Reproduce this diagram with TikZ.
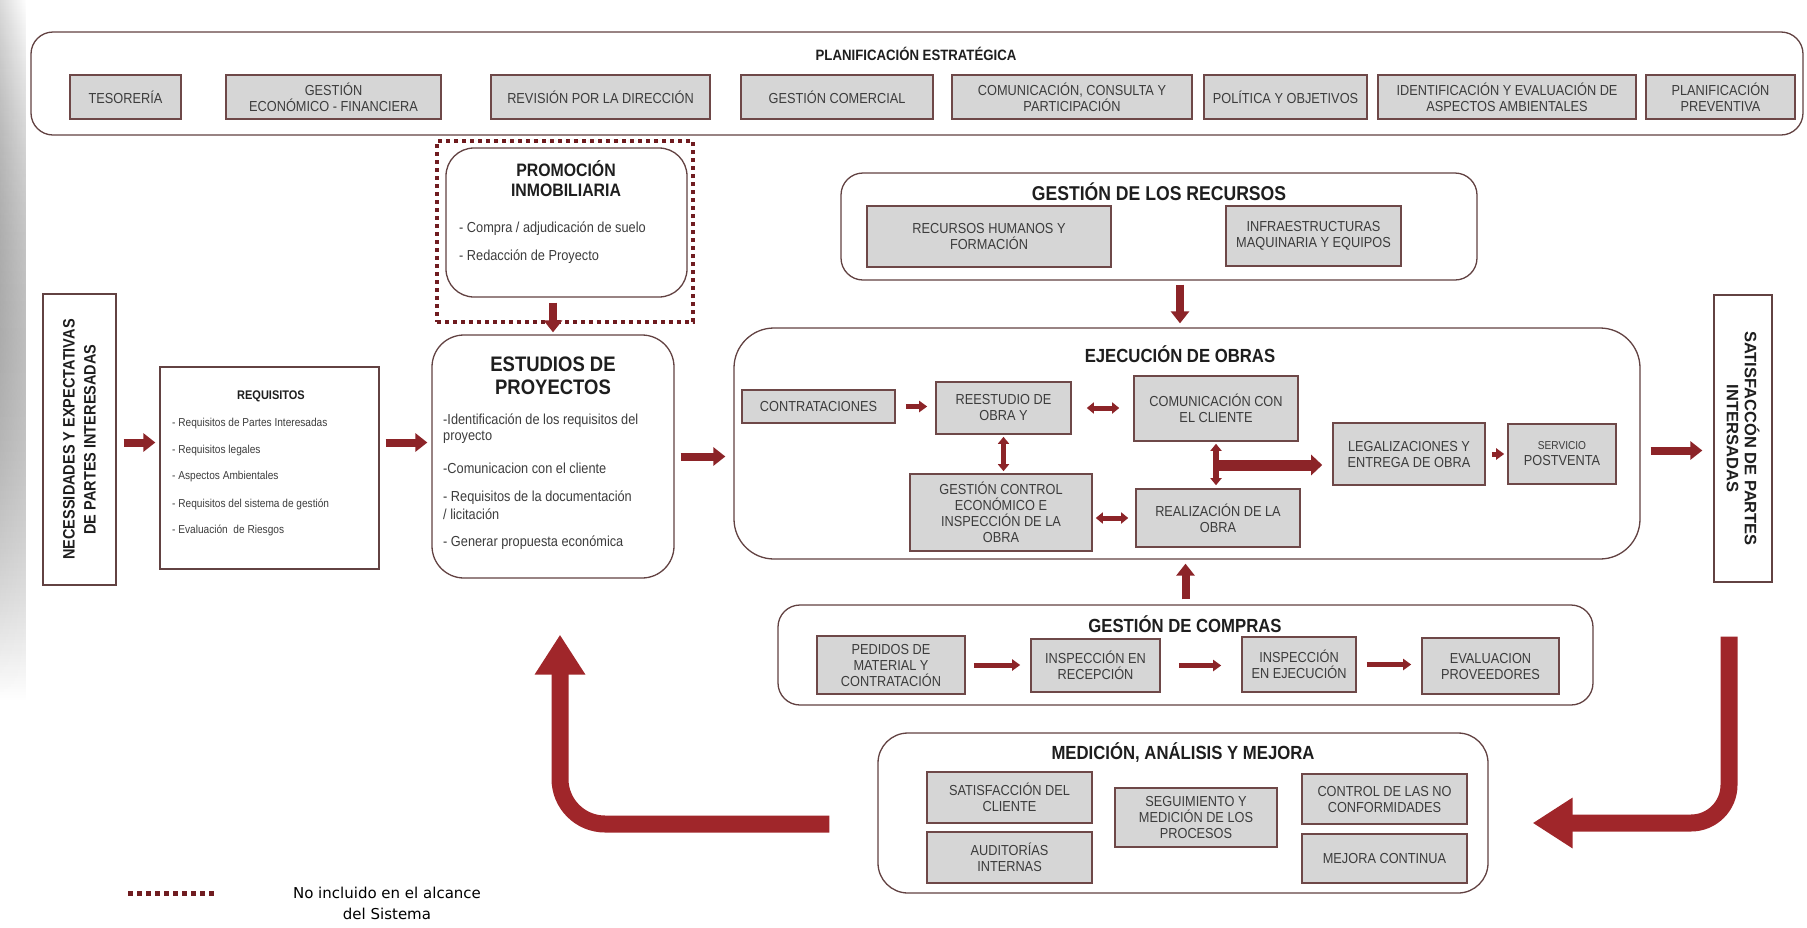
\documentclass[tikz,border=0pt]{standalone}
\usepackage{fontspec}
\setmainfont{Liberation Sans}
\newfontfamily\narrowfont[FakeStretch=0.88]{Liberation Sans}
\newfontfamily\legendfont{DejaVu Sans}
\usetikzlibrary{arrows.meta,positioning,calc,fadings}
\definecolor{maroon}{RGB}{112,28,32}
\definecolor{arrowred}{RGB}{140,36,40}
\definecolor{bigred}{RGB}{160,38,42}
\definecolor{boxgray}{RGB}{214,214,214}
\definecolor{edge}{RGB}{98,66,66}
\definecolor{itemedge}{RGB}{110,72,72}
\definecolor{txt}{RGB}{60,60,60}
\definecolor{ttlc}{RGB}{30,30,30}
\tikzset{
  grp/.style = {draw=edge,line width=1.3pt,fill=white,rounded corners=22pt,inner sep=0pt},
  plainbox/.style = {draw=edge,line width=1.3pt,fill=white,inner sep=0pt},
  item/.style = {draw=itemedge,line width=1.6pt,fill=boxgray,inner sep=0pt,align=center,text=txt,
    font=\narrowfont\fontsize{14.5}{16}\selectfont},
  ttl/.style = {align=center,text=ttlc,inner sep=0pt,font=\narrowfont\bfseries\fontsize{19}{22}\selectfont},
  bul/.style = {anchor=west,inner sep=0pt,text=txt},
  dashbox/.style = {draw=maroon,line width=4pt,dash pattern=on 4pt off 4pt},
  arr/.style = {draw=arrowred,line width=8pt,-{Triangle[width=18pt,length=12pt]}},
  sarr/.style = {draw=arrowred,line width=5pt,-{Triangle[width=11pt,length=8pt]}},
  darr/.style = {draw=arrowred,line width=5pt,{Triangle[width=11pt,length=7pt]}-{Triangle[width=11pt,length=7pt]}},
  bigarr/.style = {draw=bigred,line width=17pt,-{Triangle[width=48pt,length=40pt]}}
}
\begin{document}
\begin{tikzpicture}[x=1pt,y=-1pt]
\useasboundingbox (0,0) rectangle (1807,927);
\fill[left color=black!14,right color=white,path fading=south] (0,0) rectangle (26,700);

\node[grp,minimum width=1772pt,minimum height=103pt] (plan) at (917,83.5) {};
\node[ttl,font=\narrowfont\bfseries\fontsize{15}{18}\selectfont] (plant) at (916,54) {PLANIFICACIÓN ESTRATÉGICA};
\foreach \n/\cx/\w/\lbl in {
    tes/125.5/111/{TESORERÍA},
    gef/333.5/215/{GESTIÓN\\ECONÓMICO - FINANCIERA},
    rev/600.5/219/{REVISIÓN POR LA DIRECCIÓN},
    com/837/192/{GESTIÓN COMERCIAL},
    ccp/1072/240/{COMUNICACIÓN, CONSULTA Y\\PARTICIPACIÓN},
    pol/1285.5/163/{POLÍTICA Y OBJETIVOS},
    ide/1507/258/{IDENTIFICACIÓN Y EVALUACIÓN DE\\ASPECTOS AMBIENTALES},
    pla/1720.5/149/{PLANIFICACIÓN\\PREVENTIVA}}
  \node[item,minimum width=\w pt,minimum height=44pt] (\n) at (\cx,97) {\lbl};

\node[dashbox,minimum width=256pt,minimum height=181pt,inner sep=0pt] (promoout) at (565,231.5) {};
\node[plainbox,rounded corners=28pt,minimum width=241pt,minimum height=149pt] (promo) at (566.5,222.5) {};
\node[ttl,font=\narrowfont\bfseries\fontsize{18}{20}\selectfont] (promot) at (566,179) {PROMOCIÓN\\INMOBILIARIA};
\foreach \lbl/\y in {{- Compra / adjudicación de suelo}/229,{- Redacción de Proyecto}/257}
  \node[bul,font=\narrowfont\fontsize{14.5}{16}\selectfont] at (459,\y) {\lbl};

\node[plainbox,rotate=90,minimum width=291pt,minimum height=73pt,align=center,text=ttlc,
  font=\narrowfont\bfseries\fontsize{16.5}{21}\selectfont] (nec) at (79.5,439.5)
  {NECESSIDADES Y EXPECTATIVAS\\DE PARTES INTERESADAS};

\node[plainbox,minimum width=219pt,minimum height=202pt] (req) at (269.5,468) {};
\node[ttl,font=\narrowfont\bfseries\fontsize{12.5}{14}\selectfont] (reqt) at (271,396) {REQUISITOS};
\foreach \lbl/\y in {{- Requisitos de Partes Interesadas}/424,{- Requisitos legales}/451,
    {- Aspectos Ambientales}/477,{- Requisitos del sistema de gestión}/504,{- Evaluación \ de Riesgos}/530}
  \node[bul,font=\narrowfont\fontsize{11.5}{13}\selectfont] at (172,\y) {\lbl};

\node[plainbox,rounded corners=32pt,minimum width=242pt,minimum height=243pt] (est) at (553,456.5) {};
\node[ttl,font=\narrowfont\bfseries\fontsize{21}{23}\selectfont] (estt) at (553,376) {ESTUDIOS DE\\PROYECTOS};
\foreach \lbl/\y in {{-Identificación de los requisitos del}/421,{proyecto}/437,{-Comunicacion con el cliente}/468,
    {- Requisitos de la documentación}/498,{/ licitación}/514,{- Generar propuesta económica}/543}
  \node[bul,font=\narrowfont\fontsize{14.5}{16}\selectfont] at (443,\y) {\lbl};

\node[grp,minimum width=636pt,minimum height=107pt] (rec) at (1159,226.5) {};
\node[ttl,font=\narrowfont\bfseries\fontsize{20}{22}\selectfont] (rect) at (1159,192) {GESTIÓN DE LOS RECURSOS};
\node[item,minimum width=244pt,minimum height=61pt] (rrhh) at (989,236.5) {RECURSOS HUMANOS Y\\FORMACIÓN};
\node[item,minimum width=175pt,minimum height=60pt] (infra) at (1313.5,236) {INFRAESTRUCTURAS\\MAQUINARIA Y EQUIPOS};

\node[grp,rounded corners=40pt,minimum width=906pt,minimum height=231pt] (ejec) at (1187,443.5) {};
\node[ttl] (eject) at (1180,354) {EJECUCIÓN DE OBRAS};
\node[item,minimum width=153pt,minimum height=33pt] (contr) at (818.5,406.5) {CONTRATACIONES};
\node[item,minimum width=135pt,minimum height=52pt] (reest) at (1003.5,408) {REESTUDIO DE\\OBRA Y};
\node[item,minimum width=164pt,minimum height=65pt] (comcli) at (1216,408.5) {COMUNICACIÓN CON\\EL CLIENTE};
\node[item,minimum width=152pt,minimum height=62pt] (legal) at (1409,454) {LEGALIZACIONES Y\\ENTREGA DE OBRA};
\node[item,minimum width=108pt,minimum height=60pt] (serv) at (1562,454) {{\fontsize{11.5}{12}\selectfont SERVICIO}\\POSTVENTA};
\node[item,minimum width=182pt,minimum height=77pt] (gcon) at (1001,512.5) {GESTIÓN CONTROL\\ECONÓMICO E\\INSPECCIÓN DE LA\\OBRA};
\node[item,minimum width=164pt,minimum height=58pt] (realiz) at (1218,518) {REALIZACIÓN DE LA\\OBRA};
\coordinate (jn) at ($(comcli.south)!0.5!(comcli.south |- realiz.north)$);

\node[plainbox,rotate=-90,minimum width=287pt,minimum height=58pt,align=center,text=ttlc,
  font=\bfseries\fontsize{16.5}{18}\selectfont] (sat) at (1743,438.5)
  {SATISFACCÓN DE PARTES\\INTERSADAS};

\node[grp,minimum width=815pt,minimum height=100pt] (comp) at (1185.5,655) {};
\node[ttl] (compt) at (1185,624) {GESTIÓN DE COMPRAS};
\node[item,minimum width=148pt,minimum height=58pt] (ped) at (891,665) {PEDIDOS DE\\MATERIAL Y\\CONTRATACIÓN};
\node[item,minimum width=129pt,minimum height=53pt] (irec) at (1095.5,665.5) {INSPECCIÓN EN\\RECEPCIÓN};
\node[item,minimum width=114pt,minimum height=55pt] (iejec) at (1299,664.5) {INSPECCIÓN\\EN EJECUCIÓN};
\node[item,minimum width=137pt,minimum height=56pt] (eval) at (1490.5,666) {EVALUACION\\PROVEEDORES};

\node[grp,rounded corners=30pt,minimum width=610pt,minimum height=160pt] (med) at (1183,813) {};
\node[ttl] (medt) at (1183,753) {MEDICIÓN, ANÁLISIS Y MEJORA};
\node[item,minimum width=165pt,minimum height=51pt] (satcli) at (1009.5,797.5) {SATISFACCIÓN DEL\\CLIENTE};
\node[item,minimum width=165pt,minimum height=51pt] (audit) at (1009.5,857.5) {AUDITORÍAS\\INTERNAS};
\node[item,minimum width=162pt,minimum height=59pt] (seg) at (1196,817.5) {SEGUIMIENTO Y\\MEDICIÓN DE LOS\\PROCESOS};
\node[item,minimum width=165pt,minimum height=50pt] (ncon) at (1384.5,799) {CONTROL DE LAS NO\\CONFORMIDADES};
\node[item,minimum width=165pt,minimum height=49pt] (mej) at (1384.5,858.5) {MEJORA CONTINUA};

\draw[arr,shorten <=5pt,shorten >=2pt] (est.north |- promo.south) -- (est.north);
\draw[arr,shorten <=7pt,shorten >=4pt] ([yshift=-3pt]nec.south) -- ([yshift=-3pt]nec.south -| req.west);
\draw[arr,shorten <=6pt,shorten >=4pt] ([yshift=-3pt]req.east |- nec.south) -- ([yshift=-3pt]est.west |- nec.south);
\draw[arr,shorten <=6pt,shorten >=8pt] (est.east) -- (est.east -| ejec.west);
\draw[arr,shorten <=4pt,shorten >=4pt] ([xshift=-7pt]ejec.north |- rec.south) -- ([xshift=-7pt]ejec.north);
\draw[arr,shorten <=5pt,shorten >=4pt] (comp.north) -- (comp.north |- ejec.south);
\draw[arr,shorten <=10pt,shorten >=11pt] ([yshift=-7pt]ejec.east) -- ([yshift=-7pt]ejec.east -| sat.south);

\draw[sarr,shorten <=10pt,shorten >=8pt] (contr.east) -- (contr.east -| reest.west);
\draw[darr,shorten <=15pt,shorten >=14pt] (reest.east) -- (reest.east -| comcli.west);
\draw[darr,shorten <=2pt,shorten >=2pt] (reest.south) -- (reest.south |- gcon.north);
\draw[darr,shorten <=7pt,shorten >=3pt] (realiz.west) -- (realiz.west -| gcon.east);
\draw[darr,line width=6pt,shorten <=2pt,shorten >=3pt] (comcli.south) -- (comcli.south |- realiz.north);
\draw[arrowred,line width=11pt,-{Triangle[width=20pt,length=11pt]},shorten >=10pt] (jn) -- (jn -| legal.west);
\draw[sarr,shorten <=6pt,shorten >=3pt] (legal.east) -- (serv.west);

\draw[sarr,shorten <=8pt,shorten >=10pt] (ped.east) -- (ped.east -| irec.west);
\draw[sarr,shorten <=18pt,shorten >=20pt] (irec.east) -- (irec.east -| iejec.west);
\draw[sarr,shorten <=10pt,shorten >=10pt] (iejec.east) -- (iejec.east -| eval.west);

\draw[bigarr,rounded corners=45pt,shorten >=56pt] ([yshift=-11pt]med.west) ++(-48,0) -| ([xshift=7pt]est.south);
\draw[bigarr,rounded corners=38pt,shorten >=44pt] ([xshift=-14pt]sat.east) ++(0,54) |- ([yshift=-10pt]med.east);

\draw[dashbox,line width=5pt,dash pattern=on 5pt off 4pt] (128,893) coordinate (la) -- (215,893) coordinate (lb);
\node[align=center,inner sep=0pt,font=\legendfont\fontsize{15}{21}\selectfont] (leg) at (387,903)
  {No incluido en el alcance\\del Sistema};
\end{tikzpicture}
\end{document}
